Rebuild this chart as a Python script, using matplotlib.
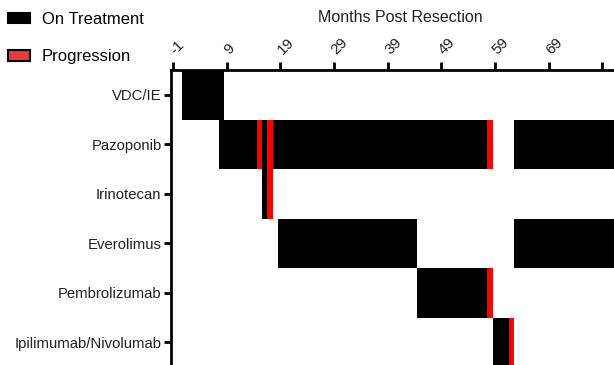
import matplotlib.pyplot as plt
from matplotlib.patches import Patch

plt.rcParams['font.family'] = ['Liberation Sans', 'DejaVu Sans']

drugs = ['VDC/IE', 'Pazoponib', 'Irinotecan', 'Everolimus', 'Pembrolizumab', 'Ipilimumab/Nivolumab']

# (row, start month, end month)
treat_row = [0, 1, 1, 1, 1, 2, 3, 3, 4, 5]
treat_start = [0.6, 7.5, 15.6, 17.6, 62.6, 15.6, 18.6, 62.6, 44.5, 58.6]
treat_end = [8.6, 14.6, 16.5, 57.5, 85.0, 16.5, 44.5, 85.0, 57.5, 61.6]

prog_row = [1, 1, 1, 2, 4, 5]
prog_start = [14.6, 16.5, 57.5, 16.5, 57.5, 61.6]
prog_end = [15.6, 17.6, 58.6, 17.6, 58.6, 62.6]

xticks = [-1, 9, 19, 29, 39, 49, 59, 69, 79]
xticklabels = ['-1', '9', '19', '29', '39', '49', '59', '69', '']

fig = plt.figure(figsize=(6.14, 3.65), dpi=100)
ax = fig.add_axes([0.279, -0.006, 0.721, 0.814])

for r, s, e in zip(treat_row, treat_start, treat_end):
    ax.barh(r, e - s, left=s, height=1.0, color='black', edgecolor='none')
for r, s, e in zip(prog_row, prog_start, prog_end):
    ax.barh(r, e - s, left=s, height=1.0, color='#ff0000', edgecolor='none')

ax.set_xlim(-1.3, 81.2)
ax.set_ylim(5.5, -0.5)
ax.set_yticks(range(len(drugs)))
ax.set_yticklabels(drugs, fontsize=10.7, color='#222222')

ax.xaxis.tick_top()
ax.set_xticks(xticks)
ax.set_xticklabels(xticklabels, rotation=45, fontsize=11, ha='left', va='center',
                   rotation_mode='anchor', color='#222222')
fig.text(400 / 614, 1 - 18 / 365, 'Months Post Resection', fontsize=11.5,
         ha='center', va='center', color='#222222')

for side in ['right', 'bottom']:
    ax.spines[side].set_visible(False)
for side in ['top', 'left']:
    ax.spines[side].set_linewidth(2)
ax.tick_params(axis='x', length=6, width=2, pad=7)
ax.tick_params(axis='y', length=5, width=2, pad=2)

handles = [Patch(facecolor='black', edgecolor='black', linewidth=1.5),
           Patch(facecolor='#e83a3a', edgecolor='black', linewidth=1.5)]
fig.legend(handles, ['On Treatment', 'Progression'], loc='upper left',
           bbox_to_anchor=(-0.011, 1.009), frameon=False, fontsize=12,
           handlelength=1.3, handleheight=0.6, handletextpad=0.7, labelspacing=1.35)

fig.savefig('out.png', dpi=100)
